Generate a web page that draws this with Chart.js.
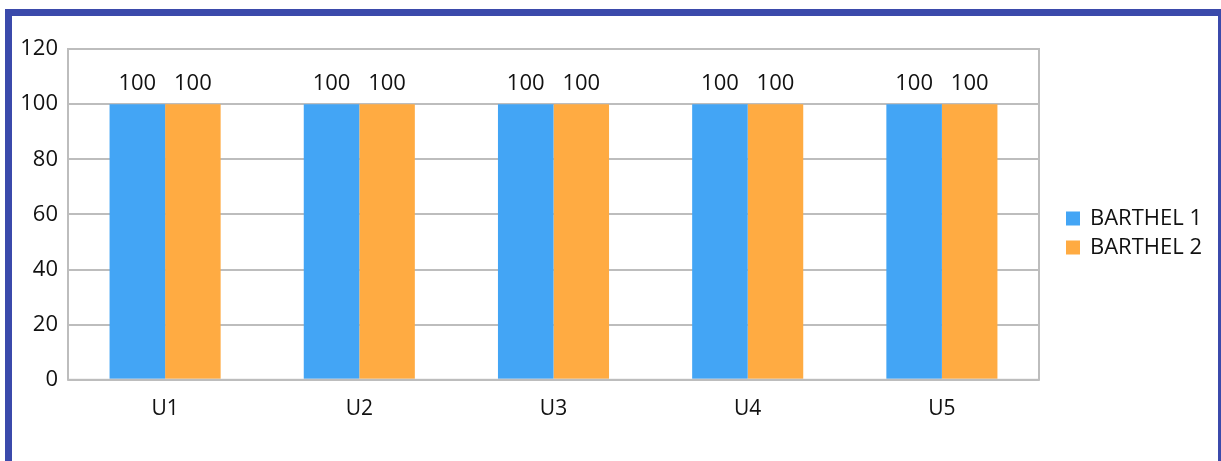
<!DOCTYPE html>
<html>
<head>
<meta charset="utf-8">
<script src="https://cdn.jsdelivr.net/npm/chart.js@4.4.1/dist/chart.umd.min.js"></script>
<style>
  html, body { margin: 0; padding: 0; background: #fff; overflow: hidden; }
  .frame {
    position: absolute; left: 5px; top: 9px; width: 1206px; height: 460px;
    border-top: 7px solid #3b4aab; border-left: 7px solid #3b4aab; border-right: 3px solid #3b4aab;
  }
  .chart-box { position: absolute; left: 12px; top: 16px; width: 1206px; height: 445px; }
</style>
</head>
<body>
<div class="frame"></div>
<div class="chart-box"><canvas id="barthelChart"></canvas></div>
<script>
// Patients and their Barthel index scores
const patients = ['U1', 'U2', 'U3', 'U4', 'U5'];
const barthel1 = [100, 100, 100, 100, 100];
const barthel2 = [100, 100, 100, 100, 100];
const yTicks = [0, 20, 40, 60, 80, 100, 120];

const FONT = '"Open Sans", Lato, sans-serif';

// Grey frame around the plot area
const plotFrame = {
  id: 'plotFrame',
  afterDatasetsDraw(chart) {
    const { ctx, chartArea: a } = chart;
    ctx.save();
    ctx.strokeStyle = '#bdbdbd';
    ctx.lineWidth = 2;
    ctx.strokeRect(a.left, a.top, a.right - a.left, a.bottom - a.top);
    ctx.restore();
  },
};

// Value labels above each bar
const valueLabels = {
  id: 'valueLabels',
  afterDatasetsDraw(chart) {
    const { ctx } = chart;
    ctx.save();
    ctx.font = '22px ' + FONT;
    ctx.fillStyle = '#111';
    ctx.textAlign = 'center';
    ctx.textBaseline = 'middle';
    chart.data.datasets.forEach((ds, i) => {
      chart.getDatasetMeta(i).data.forEach((bar, j) => {
        ctx.fillText(String(ds.data[j]), bar.x, bar.y - 20);
      });
    });
    ctx.restore();
  },
};

// Legend sitting to the right of the plot, square swatches
const sideLegend = {
  id: 'sideLegend',
  afterDraw(chart) {
    const { ctx, chartArea: a } = chart;
    const x = a.right + 27;
    const y0 = chart.height / 2 - 20;
    ctx.save();
    ctx.font = '22px ' + FONT;
    ctx.textBaseline = 'middle';
    chart.data.datasets.forEach((ds, i) => {
      const y = y0 + i * 29;
      ctx.fillStyle = ds.backgroundColor;
      ctx.fillRect(x, y - 7, 14, 14);
      ctx.fillStyle = '#111';
      ctx.fillText(ds.label, x + 24, y);
    });
    ctx.restore();
  },
};

new Chart(document.getElementById('barthelChart'), {
  type: 'bar',
  data: {
    labels: patients,
    datasets: [
      { label: 'BARTHEL 1', data: barthel1, backgroundColor: '#43a5f5' },
      { label: 'BARTHEL 2', data: barthel2, backgroundColor: '#ffab42' },
    ],
  },
  options: {
    responsive: true,
    maintainAspectRatio: false,
    animation: false,
    layout: { padding: { top: 33, right: 179, bottom: 30, left: 0 } },
    datasets: { bar: { categoryPercentage: 0.572, barPercentage: 1 } },
    plugins: {
      legend: { display: false },
      tooltip: { enabled: false },
    },
    scales: {
      x: {
        grid: { display: false },
        border: { display: false },
        ticks: { font: { size: 21, family: FONT }, color: '#111', padding: 9 },
      },
      y: {
        min: 0,
        max: 120,
        afterFit(scale) { scale.width = 56; },
        afterBuildTicks(scale) { scale.ticks = yTicks.map(v => ({ value: v })); },
        grid: { color: '#bdbdbd', lineWidth: 2, drawTicks: false },
        border: { display: false },
        ticks: { font: { size: 22, family: FONT }, color: '#111', padding: 10 },
      },
    },
  },
  plugins: [plotFrame, valueLabels, sideLegend],
});
</script>
</body>
</html>
